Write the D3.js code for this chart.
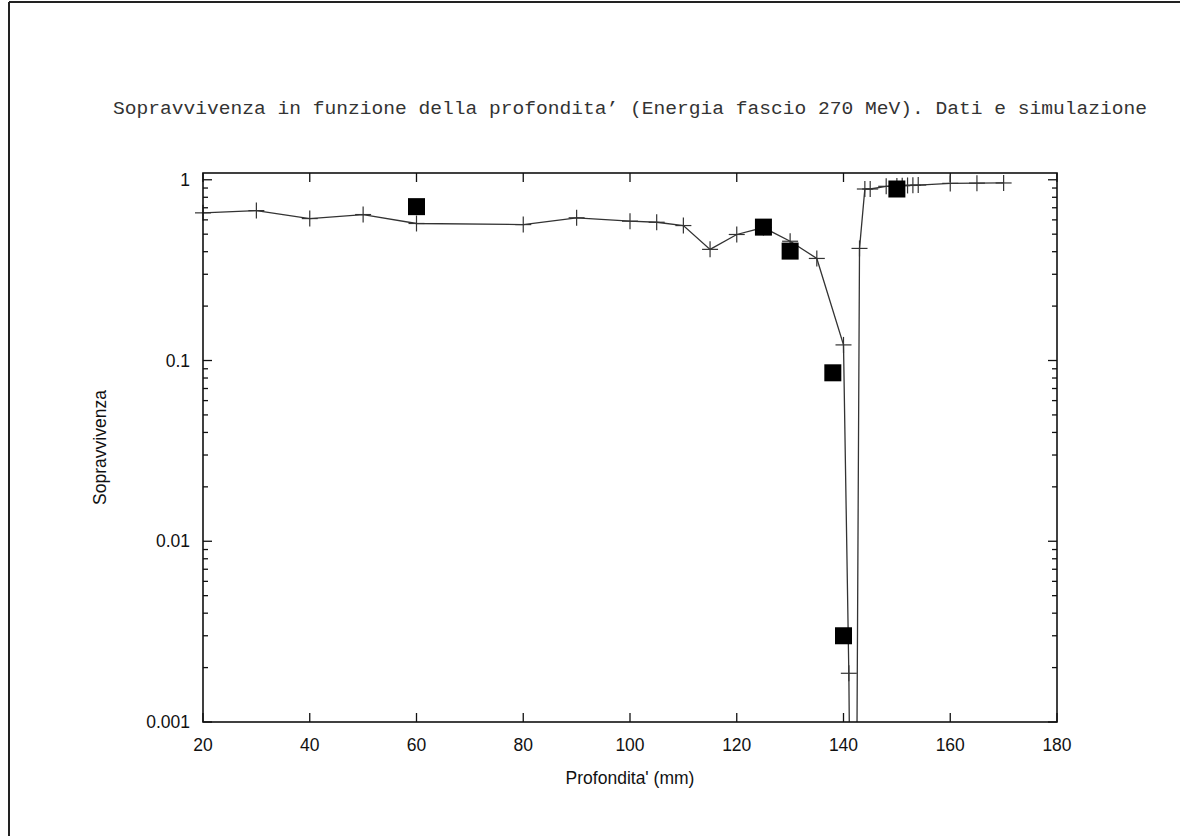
<!DOCTYPE html>
<html>
<head>
<meta charset="utf-8">
<script src="https://cdn.jsdelivr.net/npm/d3@7"></script>
<style>
  html, body { margin: 0; padding: 0; background: #fff; }
  svg { display: block; }
</style>
</head>
<body>
<svg id="chart" width="1180" height="836"></svg>
<script>
// Simulated survival vs depth (line with "+" markers)
const simDepth = [20, 30, 40, 50, 60, 80, 90, 100, 105, 110, 115, 120, 125, 130, 135, 140, 141, 142, 143, 144, 145, 148, 150, 151, 152, 153, 154, 160, 165, 170];
const simSurv  = [0.656, 0.675, 0.61, 0.642, 0.573, 0.565, 0.616, 0.59, 0.582, 0.558, 0.412, 0.498, 0.544, 0.457, 0.367, 0.122, 0.00186, 0.000001, 0.417, 0.889, 0.889, 0.92, 0.925, 0.927, 0.93, 0.932, 0.935, 0.955, 0.958, 0.96];

// Measured survival (filled squares)
const dataDepth = [60, 125, 130, 138, 140, 150];
const dataSurv  = [0.71, 0.547, 0.403, 0.0855, 0.003, 0.889];

// Axis ticks
const xTicks = [20, 40, 60, 80, 100, 120, 140, 160, 180];
const yTicks = [0.001, 0.01, 0.1, 1];
const yTickLabels = ["0.001", "0.01", "0.1", "1"];

const titleText = "Sopravvivenza in funzione della profondita’ (Energia fascio 270 MeV). Dati e simulazione";
const xLabel = "Profondita' (mm)";
const yLabel = "Sopravvivenza";

const svg = d3.select("#chart");
const W = 1180, H = 836;
const plot = { left: 203, right: 1057, top: 173, bottom: 722 };

const x = d3.scaleLinear().domain([20, 180]).range([plot.left, plot.right]);
const y = d3.scaleLog().domain([0.001, 1.09]).range([plot.bottom, plot.top]);

// page frame edges
svg.append("line").attr("x1", 9).attr("y1", 2).attr("x2", 9).attr("y2", H)
  .attr("stroke", "#222").attr("stroke-width", 2);
svg.append("line").attr("x1", 9).attr("y1", 2).attr("x2", W).attr("y2", 2)
  .attr("stroke", "#222").attr("stroke-width", 2);

// title
svg.append("text")
  .attr("x", 630).attr("y", 114)
  .attr("text-anchor", "middle")
  .attr("font-family", "'Liberation Mono', 'Courier New', monospace")
  .attr("font-size", 18.5)
  .attr("textLength", 1034)
  .attr("lengthAdjust", "spacingAndGlyphs")
  .attr("fill", "#333")
  .text(titleText);

// minor log ticks
const minor = [];
for (let e = -3; e < 1; e++) {
  for (let m = 2; m <= 9; m++) {
    const v = m * Math.pow(10, e);
    if (v <= 1.09) minor.push(v);
  }
}

const axes = svg.append("g").attr("stroke", "#111").attr("stroke-width", 1.3);

// y major & minor ticks, left and right, pointing inward
yTicks.forEach(v => {
  axes.append("line").attr("x1", plot.left).attr("x2", plot.left + 9).attr("y1", y(v)).attr("y2", y(v));
  axes.append("line").attr("x1", plot.right).attr("x2", plot.right - 9).attr("y1", y(v)).attr("y2", y(v));
});
minor.forEach(v => {
  axes.append("line").attr("x1", plot.left).attr("x2", plot.left + 5).attr("y1", y(v)).attr("y2", y(v));
  axes.append("line").attr("x1", plot.right).attr("x2", plot.right - 5).attr("y1", y(v)).attr("y2", y(v));
});
// x ticks, bottom and top, pointing inward
xTicks.forEach(v => {
  axes.append("line").attr("x1", x(v)).attr("x2", x(v)).attr("y1", plot.bottom).attr("y2", plot.bottom - 9);
  axes.append("line").attr("x1", x(v)).attr("x2", x(v)).attr("y1", plot.top).attr("y2", plot.top + 9);
});

// clip for the curve
svg.append("clipPath").attr("id", "plotClip")
  .append("rect").attr("x", plot.left).attr("y", plot.top)
  .attr("width", plot.right - plot.left).attr("height", plot.bottom - plot.top);

const sim = simDepth.map((d, i) => ({ x: d, y: simSurv[i] }));
const line = d3.line().x(d => x(d.x)).y(d => y(d.y));

svg.append("path")
  .datum(sim)
  .attr("clip-path", "url(#plotClip)")
  .attr("fill", "none")
  .attr("stroke", "#333")
  .attr("stroke-width", 1.3)
  .attr("d", line);

// "+" markers
const crossSize = 8;
const inRange = sim.filter(d => d.y >= 0.001);
const crosses = svg.append("g").attr("stroke", "#333").attr("stroke-width", 1.2);
inRange.forEach(d => {
  const cx = x(d.x), cy = y(d.y);
  crosses.append("line").attr("x1", cx - crossSize).attr("x2", cx + crossSize).attr("y1", cy).attr("y2", cy);
  crosses.append("line").attr("x1", cx).attr("x2", cx).attr("y1", cy - crossSize).attr("y2", cy + crossSize);
});

// measured squares
const sq = 17;
svg.append("g").selectAll("rect")
  .data(dataDepth.map((d, i) => ({ x: d, y: dataSurv[i] })))
  .join("rect")
  .attr("x", d => x(d.x) - sq / 2)
  .attr("y", d => y(d.y) - sq / 2)
  .attr("width", sq).attr("height", sq)
  .attr("fill", "#000");

// plot border
svg.append("rect")
  .attr("x", plot.left).attr("y", plot.top)
  .attr("width", plot.right - plot.left).attr("height", plot.bottom - plot.top)
  .attr("fill", "none").attr("stroke", "#111").attr("stroke-width", 1.6);

// tick labels
const labelFont = "'Liberation Sans', Arial, Helvetica, sans-serif";
svg.append("g").selectAll("text")
  .data(xTicks).join("text")
  .attr("x", d => x(d)).attr("y", plot.bottom + 29)
  .attr("text-anchor", "middle")
  .attr("font-family", labelFont).attr("font-size", 17.5).attr("fill", "#111")
  .text(d => d);

svg.append("g").selectAll("text")
  .data(yTicks).join("text")
  .attr("x", plot.left - 13).attr("y", d => y(d) + 6)
  .attr("text-anchor", "end")
  .attr("font-family", labelFont).attr("font-size", 17.5).attr("fill", "#111")
  .text((d, i) => yTickLabels[i]);

// axis titles
svg.append("text")
  .attr("x", (plot.left + plot.right) / 2).attr("y", plot.bottom + 62)
  .attr("text-anchor", "middle")
  .attr("font-family", labelFont).attr("font-size", 17.5).attr("fill", "#111")
  .text(xLabel);

svg.append("text")
  .attr("transform", `translate(106, ${(plot.top + plot.bottom) / 2}) rotate(-90)`)
  .attr("text-anchor", "middle")
  .attr("font-family", labelFont).attr("font-size", 17.5).attr("fill", "#111")
  .text(yLabel);
</script>
</body>
</html>
